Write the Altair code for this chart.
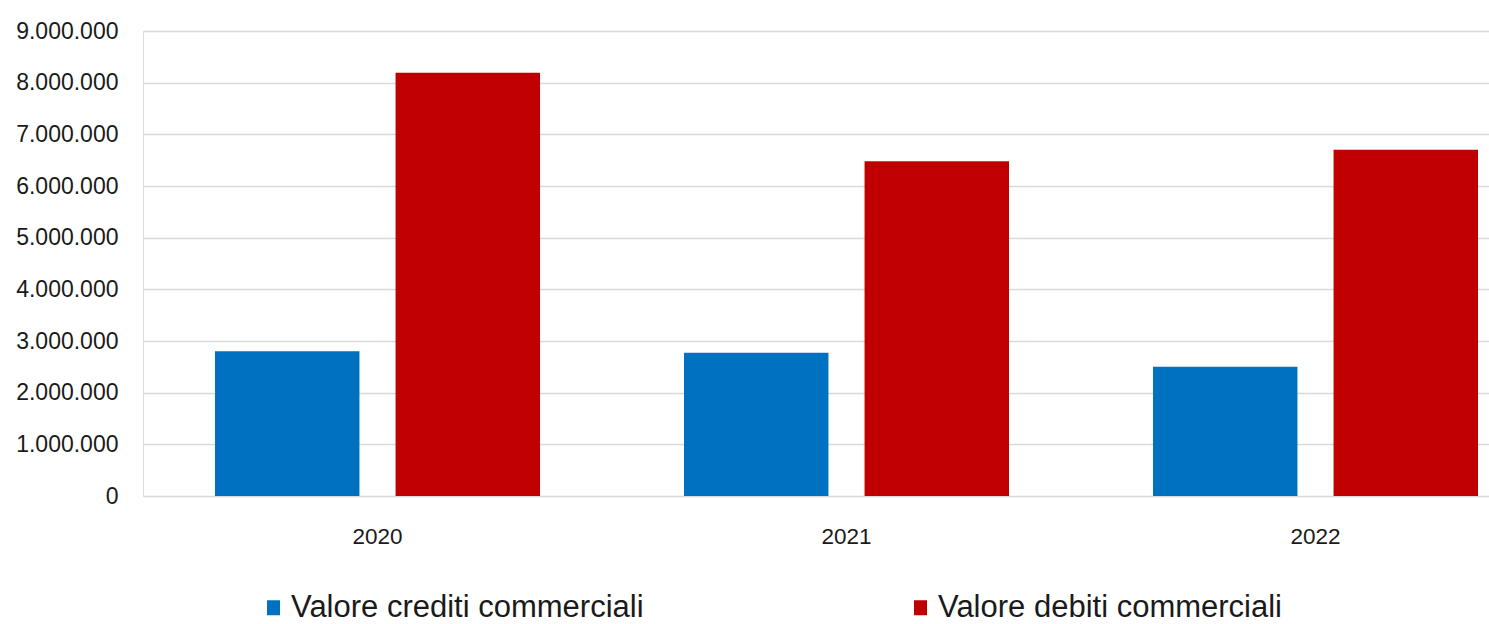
import altair as alt
import pandas as pd

years = ["2020", "2021", "2022"]
series = ["Valore crediti commerciali", "Valore debiti commerciali"]
crediti = [2800000, 2775000, 2500000]
debiti = [8190000, 6480000, 6700000]
colors = ["#0070C0", "#C00000"]
y_ticks = [0, 1000000, 2000000, 3000000, 4000000, 5000000, 6000000, 7000000, 8000000, 9000000]

rows = []
for i, yr in enumerate(years):
    rows.append({"anno": yr, "serie": series[0], "valore": crediti[i]})
    rows.append({"anno": yr, "serie": series[1], "valore": debiti[i]})
df = pd.DataFrame(rows)

FONT = "Liberation Sans, Arial, sans-serif"

chart = alt.Chart(df).mark_bar().encode(
    x=alt.X("anno:N", title=None, sort=years,
            scale=alt.Scale(range=[0, 1407], paddingInner=0.307, paddingOuter=0.1535),
            axis=alt.Axis(labelAngle=0, domain=False, ticks=False, labelPadding=29,
                          labelFontSize=22.5, labelFont=FONT, labelColor="#1a1a1a", grid=False)),
    xOffset=alt.XOffset("serie:N", sort=series, scale=alt.Scale(paddingInner=0.2, paddingOuter=0)),
    y=alt.Y("valore:Q", title=None,
            scale=alt.Scale(domain=[0, 9000000], nice=False),
            axis=alt.Axis(values=y_ticks, domain=False, ticks=False, labelPadding=25,
                          labelFontSize=23, labelFont=FONT, labelColor="#1a1a1a",
                          gridColor="#d9d9d9", gridWidth=1.5,
                          labelExpr="replace(format(datum.value, ',.0f'), regexp(',', 'g'), '.')")),
    color=alt.Color("serie:N", sort=series,
                    scale=alt.Scale(domain=series, range=colors),
                    legend=alt.Legend(title=None, orient="none", direction="horizontal",
                                      legendX=115, legendY=561,
                                      symbolType="M-0.867,-1H0.867V1H-0.867Z", symbolSize=225,
                                      symbolStrokeWidth=0,
                                      labelFontSize=31, labelFont=FONT, labelColor="#1a1a1a",
                                      labelOffset=2, columnPadding=261, padding=0,
                                      labelLimit=600)),
).properties(
    width=1346, height=465,
    autosize=alt.AutoSizeParams(type="none"),
    padding={"left": 143, "top": 31, "right": 0, "bottom": 128},
).configure_view(stroke=None).configure(background="white")

chart.save("out.html", embed_options={"renderer": "svg", "actions": False})
